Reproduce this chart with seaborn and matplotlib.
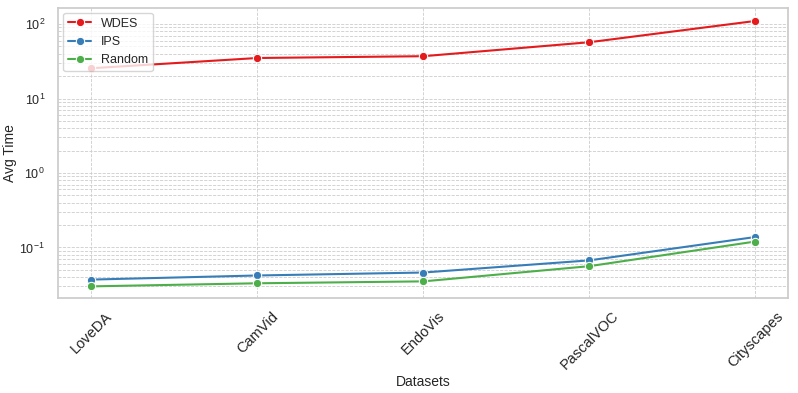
import matplotlib
matplotlib.use("Agg")
import matplotlib.pyplot as plt
import seaborn as sns
import pandas as pd

datasets = ['LoveDA', 'CamVid', 'EndoVis', 'PascalVOC', 'Cityscapes']
wdes = [25.5, 35, 37, 57, 110]
ips = [0.037, 0.042, 0.046, 0.067, 0.138]
rand = [0.030, 0.033, 0.035, 0.056, 0.12]

df = pd.DataFrame({
    'Datasets': datasets * 3,
    'Avg Time': wdes + ips + rand,
    'Method': ['WDES'] * 5 + ['IPS'] * 5 + ['Random'] * 5,
})

sns.set_theme(style='whitegrid')
plt.rcParams['font.family'] = ['Liberation Sans', 'DejaVu Sans']

fig, ax = plt.subplots(figsize=(7.98, 3.93), dpi=100)
sns.lineplot(data=df, x='Datasets', y='Avg Time', hue='Method', marker='o',
             palette='Set1', ax=ax, linewidth=1.5, markersize=6)
ax.set_yscale('log')
ax.set_ylim(0.021, 165)
ax.grid(True, which='both', linestyle='--', linewidth=0.6)
ax.tick_params(axis='x', rotation=45, labelsize=10.5, pad=2)
ax.tick_params(axis='y', labelsize=9)
ax.legend(title=None, loc='upper left', fontsize=9, handlelength=1.8, borderaxespad=0.4)
ax.set_xlabel('Datasets', fontsize=10, labelpad=2)
ax.set_ylabel('Avg Time', fontsize=10)
ax.yaxis.set_label_coords(-0.056, 0.5)
plt.subplots_adjust(left=0.073, right=0.988, top=0.98, bottom=0.242)
fig.savefig('out.png', dpi=100)
